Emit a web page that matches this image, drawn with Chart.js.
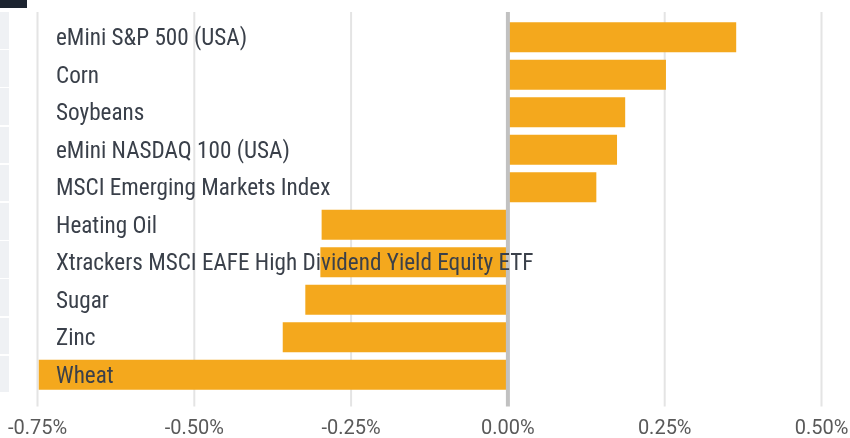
<!DOCTYPE html>
<html>
<head>
<meta charset="utf-8">
<script src="https://cdn.jsdelivr.net/npm/chart.js@4"></script>
<style>
  html, body { margin: 0; padding: 0; background: #fff; }
  #wrap { position: relative; width: 850px; height: 438px; }
  #side { position: absolute; left: 0; top: 0; width: 9px; height: 438px; }
  #side .cell { position: absolute; left: 0; width: 9px; background: #eff1f4; }
  #side .head { position: absolute; left: 0; top: 0; width: 27px; height: 8px; background: #1c2430; }
  canvas { position: absolute; left: 0; top: 0; }
</style>
</head>
<body>
<div id="wrap">
  <div id="side"><div class="head"></div></div>
  <canvas id="moversChart" width="850" height="438"></canvas>
</div>
<script>
// markets, in the order shown (top to bottom)
const categories = [
    'eMini S&P 500 (USA)',
    'Corn',
    'Soybeans',
    'eMini NASDAQ 100 (USA)',
    'MSCI Emerging Markets Index',
    'Heating Oil',
    'Xtrackers MSCI EAFE High Dividend Yield Equity ETF',
    'Sugar',
    'Zinc',
    'Wheat'
];
// % change
const changes = [0.364, 0.252, 0.187, 0.174, 0.141, -0.297, -0.299, -0.323, -0.359, -0.748];
// x axis ticks
const tickValues = [-0.75, -0.5, -0.25, 0, 0.25, 0.5];

// left side cells (page chrome next to the chart)
const side = document.getElementById('side');
for (let i = 0; i < 10; i++) {
    const d = document.createElement('div');
    d.className = 'cell';
    d.style.top = (12 + i * 38.2) + 'px';
    d.style.height = '36.5px';
    side.appendChild(d);
}

// grid lines reach a bit past the plot area, zero line drawn over the bars
const gridPlugin = {
    id: 'gridLines',
    beforeDatasetsDraw(chart) {
        const { ctx, chartArea, scales: { x } } = chart;
        ctx.save();
        ctx.strokeStyle = '#e4e4e4';
        ctx.lineWidth = 2;
        tickValues.forEach(v => {
            if (v === 0) return;
            const px = x.getPixelForValue(v);
            ctx.beginPath();
            ctx.moveTo(px, chartArea.top - 6.5);
            ctx.lineTo(px, chartArea.bottom + 13);
            ctx.stroke();
        });
        ctx.restore();
    },
    afterDatasetsDraw(chart) {
        const { ctx, chartArea, scales: { x } } = chart;
        const px = x.getPixelForValue(0);
        ctx.save();
        ctx.strokeStyle = '#c1c1c1';
        ctx.lineWidth = 4;
        ctx.beginPath();
        ctx.moveTo(px, chartArea.top - 6.5);
        ctx.lineTo(px, chartArea.bottom + 13);
        ctx.stroke();
        ctx.restore();
    }
};

const ctx = document.getElementById('moversChart').getContext('2d');
new Chart(ctx, {
    type: 'bar',
    data: {
        labels: categories,
        datasets: [{
            data: changes,
            backgroundColor: '#f4a81d',
            borderWidth: 0,
            barPercentage: 0.8,
            categoryPercentage: 1
        }]
    },
    options: {
        indexAxis: 'y',
        responsive: false,
        animation: false,
        layout: { padding: { left: 0, right: 28.5, top: 18.5, bottom: 0 } },
        plugins: {
            legend: { display: false },
            tooltip: { enabled: false }
        },
        scales: {
            x: {
                min: -0.75,
                max: 0.5,
                afterBuildTicks: (axis) => { axis.ticks = tickValues.map(v => ({ value: v })); },
                afterFit: (axis) => {
                    axis.height = 44.5;
                    axis.paddingLeft = 0;
                    axis.paddingRight = 0;
                },
                grid: { display: false, drawTicks: false },
                border: { display: false },
                ticks: {
                    padding: 23,
                    color: '#595959',
                    font: { family: 'Roboto', size: 20 },
                    callback: (v) => v.toFixed(2) + '%'
                }
            },
            y: {
                afterFit: (axis) => {
                    axis.width = 37.5;
                    axis.paddingTop = 0;
                    axis.paddingBottom = 0;
                },
                grid: { display: false, drawTicks: false },
                border: { display: false },
                ticks: {
                    z: 1,
                    mirror: true,
                    padding: 18.5,
                    labelOffset: 2,
                    color: '#3a404a',
                    font: { family: 'Roboto Condensed', size: 23.2 }
                }
            }
        }
    },
    plugins: [gridPlugin]
});
</script>
</body>
</html>
